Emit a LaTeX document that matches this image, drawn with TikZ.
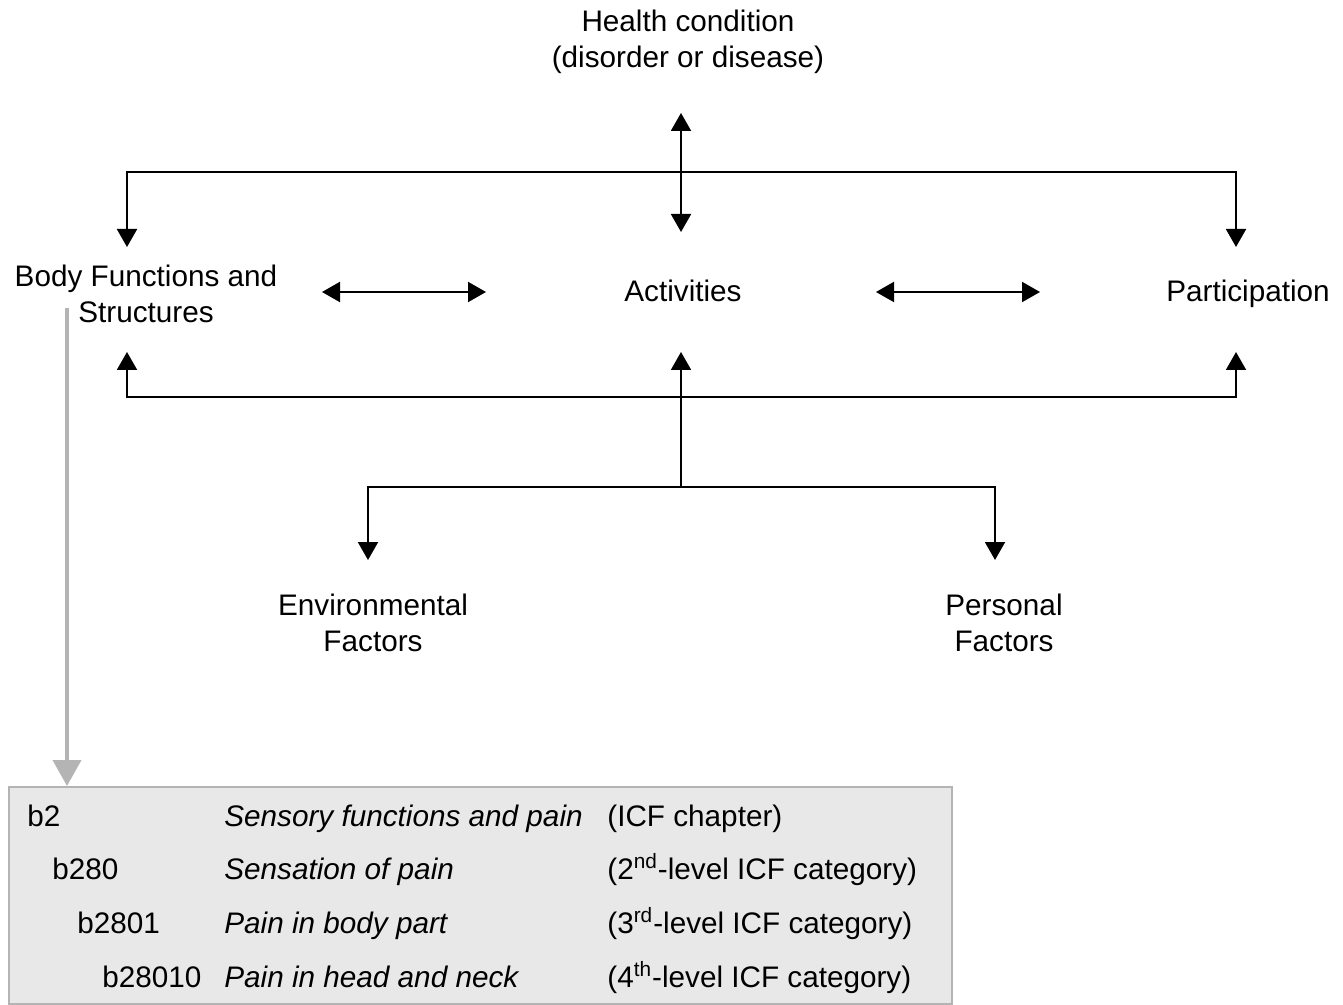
\documentclass[tikz,border=0pt]{standalone}
\usepackage{fontspec}
\setmainfont{Liberation Sans}
\usetikzlibrary{arrows.meta}

\begin{document}
\begin{tikzpicture}[x=0.5pt, y=-0.5pt, >={Triangle[width=10pt,length=9pt]},
  every node/.style={font=\fontsize{14.85}{18}\selectfont, inner sep=0pt},
  lbl/.style={align=center},
  link/.style={line width=1pt},
  graylink/.style={line width=2pt, draw=boxline, -{Triangle[width=14pt,length=13pt]}},
  cell/.style={anchor=base west}]
\definecolor{boxline}{HTML}{B4B4B4}
\definecolor{boxfill}{HTML}{E8E8E8}
\useasboundingbox (0,0) rectangle (1343,1005);
\begin {scope}
  \node [lbl] (health) at (688,42) {Health condition\\(disorder or disease)};
  \node [lbl] (body) at (146,294) {Body Functions and\\Structures};
  \node [anchor=base] (act) at (683,302) {Activities};
  \node [anchor=base] (part) at (1248,302) {Participation};
  \node [lbl] (env) at (373,623) {Environmental\\Factors};
  \node [lbl] (pers) at (1004,623) {Personal\\Factors};
\end {scope}
  \coordinate (hc-tip) at (681,113);
  \coordinate (act-top) at (681,232);
  \coordinate (top-l) at (127,172);
  \coordinate (top-r) at (1236,172);
  \coordinate (body-top) at (127,247);
  \coordinate (part-top) at (1236,247);
  \coordinate (ba-l) at (322,292);
  \coordinate (ba-r) at (486,292);
  \coordinate (ap-l) at (876,292);
  \coordinate (ap-r) at (1040,292);
  \coordinate (body-bot) at (127,352);
  \coordinate (act-bot) at (681,352);
  \coordinate (part-bot) at (1236,352);
  \coordinate (bot-l) at (127,397);
  \coordinate (bot-r) at (1236,397);
  \coordinate (fac-m) at (681,487);
  \coordinate (fac-l) at (368,487);
  \coordinate (fac-r) at (995,487);
  \coordinate (env-top) at (368,560);
  \coordinate (pers-top) at (995,560);
  \draw [link,<->] (hc-tip) -- (act-top);
  \draw [link,<->] (body-top) -- (top-l) -- (top-r) -- (part-top);
  \draw [link,<->] (ba-l) -- (ba-r);
  \draw [link,<->] (ap-l) -- (ap-r);
  \draw [link,<->] (body-bot) -- (bot-l) -- (bot-r) -- (part-bot);
  \draw [link,->] (fac-m) -- (act-bot);
  \draw [link,<->] (env-top) -- (fac-l) -- (fac-r) -- (pers-top);
\begin {scope}
  \node [draw=boxline, fill=boxfill, line width=1pt, anchor=north west,
    minimum width=471.5pt, minimum height=108.5pt] (icfbox) at (8,786) {};
  \coordinate (gray-start) at (67,308);
  \draw [graylink] (gray-start) -- (gray-start |- icfbox.north);
  \node [cell] (b2) at (27,826) {b2};
  \node [cell] (b2-name) at (224,826) {\itshape Sensory functions and pain};
  \node [cell] (b2-lvl) at (607,826) {(ICF chapter)};
  \node [cell] (b280) at (52,879) {b280};
  \node [cell] (b280-name) at (224,879) {\itshape Sensation of pain};
  \node [cell] (b280-lvl) at (607,879) {(2\textsuperscript{nd}-level ICF category)};
  \node [cell] (b2801) at (77,933) {b2801};
  \node [cell] (b2801-name) at (224,933) {\itshape Pain in body part};
  \node [cell] (b2801-lvl) at (607,933) {(3\textsuperscript{rd}-level ICF category)};
  \node [cell] (b28010) at (102,987) {b28010};
  \node [cell] (b28010-name) at (224,987) {\itshape Pain in head and neck};
  \node [cell] (b28010-lvl) at (607,987) {(4\textsuperscript{th}-level ICF category)};
\end {scope}
\end{tikzpicture}
\end{document}
